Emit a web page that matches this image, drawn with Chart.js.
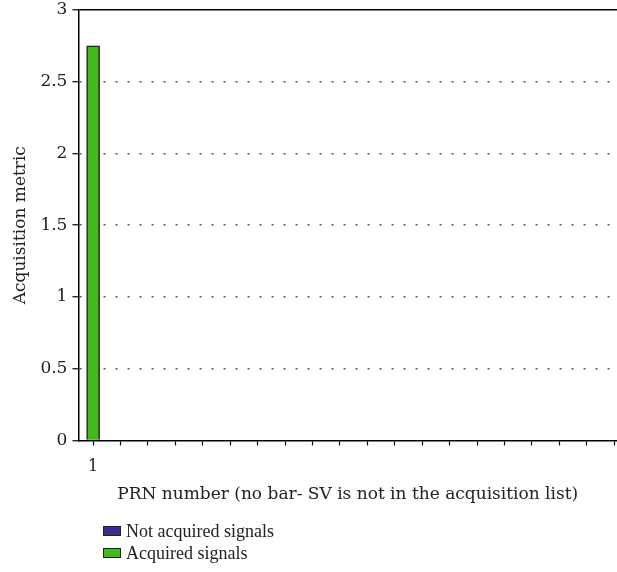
<!DOCTYPE html>
<html>
<head>
<meta charset="utf-8">
<script src="https://cdn.jsdelivr.net/npm/chart.js@4/dist/chart.umd.min.js"></script>
<style>
    html, body { margin: 0; padding: 0; background: #fff; }
    #wrap { position: relative; width: 617px; height: 572px; }
    #legend {
        position: absolute; left: 103px; top: 520px;
        font-family: "Liberation Serif", "DejaVu Serif", serif;
        font-size: 18px; color: #222; line-height: 22px;
    }
    .legend-item { display: flex; align-items: center; }
    .legend-box { width: 16px; height: 8px; border: 1px solid #222; margin-right: 5px; }
</style>
</head>
<body>
<div id="wrap">
    <canvas id="acqChart" width="617" height="572"></canvas>
    <div id="legend"></div>
</div>
<script>
// PRN numbers and acquisition metric
const acquiredPrn = [1];
const acquiredMetric = [2.75];
const notAcquiredPrn = [];
const notAcquiredMetric = [];
const labeledPrn = [1];

const seriesLabels = ['Not acquired signals', 'Acquired signals'];
const seriesColors = ['#3a2f8f', '#45b81a'];

const serif = '"DejaVu Serif", "Liberation Serif", serif';

function toPoints(xs, ys) {
    return xs.map((x, i) => ({ x: x, y: ys[i] }));
}

const ctx = document.getElementById('acqChart');
const chart = new Chart(ctx, {
    type: 'bar',
    data: {
        datasets: [{
            label: seriesLabels[0],
            data: toPoints(notAcquiredPrn, notAcquiredMetric),
            backgroundColor: seriesColors[0],
            borderColor: '#222',
            borderWidth: 1.5,
            barThickness: 13
        }, {
            label: seriesLabels[1],
            data: toPoints(acquiredPrn, acquiredMetric),
            backgroundColor: seriesColors[1],
            borderColor: '#222',
            borderWidth: 1.5,
            barThickness: 13
        }]
    },
    options: {
        responsive: false,
        animation: false,
        grouped: false,
        layout: { padding: { top: 10, right: 0, bottom: 67, left: 10 } },
        plugins: {
            legend: { display: false },
            tooltip: { enabled: false }
        },
        scales: {
            x: {
                type: 'linear',
                min: 0.465,
                max: 20.1,
                offset: false,
                afterFit: s => { s.paddingRight = 0; },
                grid: {
                    offset: false,
                    drawOnChartArea: false,
                    tickLength: 5,
                    tickColor: '#000',
                    tickWidth: 1.2
                },
                border: { color: '#000', width: 1.5 },
                ticks: {
                    stepSize: 1,
                    includeBounds: false,
                    autoSkip: false,
                    maxRotation: 0,
                    padding: 12,
                    color: '#222',
                    font: { family: serif, size: 16 },
                    callback: v => labeledPrn.includes(v) ? String(v) : ''
                },
                title: {
                    display: true,
                    text: 'PRN number (no bar- SV is not in the acquisition list)',
                    color: '#222',
                    font: { family: serif, size: 17 },
                    padding: { top: -4, bottom: 0 }
                }
            },
            y: {
                min: 0,
                max: 3,
                afterFit: s => { s.paddingTop = 0; },
                grid: {
                    color: c => c.tick.value === 3 ? '#000' : (c.tick.value === 0 ? 'rgba(0,0,0,0)' : '#555'),
                    lineWidth: 1.5,
                    tickLength: 6,
                    tickColor: '#000',
                    tickWidth: 1.2,
                    tickBorderDash: []
                },
                border: {
                    color: '#000',
                    width: 1.5,
                    dash: c => (c.tick && c.tick.value === 3) ? [] : [2, 10]
                },
                ticks: {
                    stepSize: 0.5,
                    padding: 5,
                    color: '#222',
                    font: { family: serif, size: 17 },
                    callback: v => String(v)
                },
                title: {
                    display: true,
                    text: 'Acquisition metric',
                    color: '#222',
                    font: { family: serif, size: 17 },
                    padding: { top: 0, bottom: 5 }
                }
            }
        }
    }
});

// Legend stacked under the axis title, built from the datasets
document.getElementById('legend').innerHTML = chart.data.datasets.map(ds => `
    <div class="legend-item">
        <span class="legend-box" style="background:${ds.backgroundColor}"></span>
        <span>${ds.label}</span>
    </div>
`).join('');
</script>
</body>
</html>
